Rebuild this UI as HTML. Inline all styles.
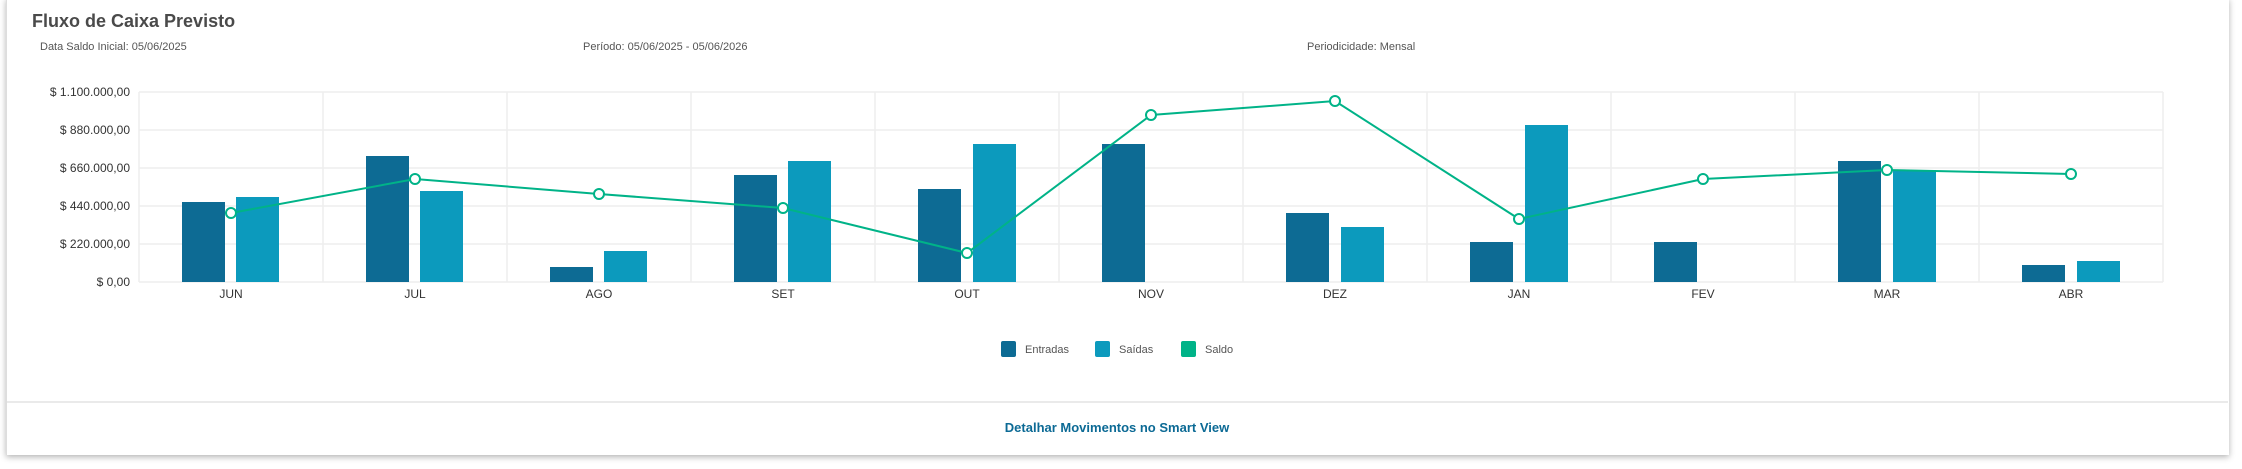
<!DOCTYPE html>
<html><head><meta charset="utf-8"><style>
body{margin:0;width:2242px;height:469px;background:#fff;overflow:hidden;font-family:"Liberation Sans",sans-serif;}
.card{position:absolute;left:6px;top:-2px;width:2222px;height:457px;background:#fff;box-shadow:0 2px 6px rgba(0,0,0,0.3);border-left:1px solid #ddd;}
</style></head><body>
<div class="card"></div>
<svg width="2242" height="469" style="position:absolute;left:0;top:0" font-family="Liberation Sans, sans-serif">
<text x="32" y="27" font-size="18" font-weight="bold" fill="#4a4a4a">Fluxo de Caixa Previsto</text>
<g font-size="11" fill="#555">
<text x="40" y="50">Data Saldo Inicial: 05/06/2025</text>
<text x="583" y="50">Período: 05/06/2025 - 05/06/2026</text>
<text x="1307" y="50">Periodicidade: Mensal</text>
</g>
<g stroke="#eeeeee" stroke-width="1.5">
<line x1="139" y1="92" x2="2163" y2="92"/><line x1="139" y1="130" x2="2163" y2="130"/><line x1="139" y1="168" x2="2163" y2="168"/><line x1="139" y1="206" x2="2163" y2="206"/><line x1="139" y1="244" x2="2163" y2="244"/><line x1="139" y1="282" x2="2163" y2="282"/>
<line x1="139" y1="92" x2="139" y2="282"/><line x1="323" y1="92" x2="323" y2="282"/><line x1="507" y1="92" x2="507" y2="282"/><line x1="691" y1="92" x2="691" y2="282"/><line x1="875" y1="92" x2="875" y2="282"/><line x1="1059" y1="92" x2="1059" y2="282"/><line x1="1243" y1="92" x2="1243" y2="282"/><line x1="1427" y1="92" x2="1427" y2="282"/><line x1="1611" y1="92" x2="1611" y2="282"/><line x1="1795" y1="92" x2="1795" y2="282"/><line x1="1979" y1="92" x2="1979" y2="282"/><line x1="2163" y1="92" x2="2163" y2="282"/>
</g>
<g font-size="12" fill="#333" text-anchor="end">
<text x="130" y="96">$ 1.100.000,00</text><text x="130" y="134">$ 880.000,00</text><text x="130" y="172">$ 660.000,00</text><text x="130" y="210">$ 440.000,00</text><text x="130" y="248">$ 220.000,00</text><text x="130" y="286">$ 0,00</text>
</g>
<g font-size="12" fill="#333" text-anchor="middle">
<text x="231" y="298">JUN</text><text x="415" y="298">JUL</text><text x="599" y="298">AGO</text><text x="783" y="298">SET</text><text x="967" y="298">OUT</text><text x="1151" y="298">NOV</text><text x="1335" y="298">DEZ</text><text x="1519" y="298">JAN</text><text x="1703" y="298">FEV</text><text x="1887" y="298">MAR</text><text x="2071" y="298">ABR</text>
</g>
<g fill="#0d6b94">
<rect x="182" y="202" width="43" height="80"/><rect x="366" y="156" width="43" height="126"/><rect x="550" y="267" width="43" height="15"/><rect x="734" y="175" width="43" height="107"/><rect x="918" y="189" width="43" height="93"/><rect x="1102" y="144" width="43" height="138"/><rect x="1286" y="213" width="43" height="69"/><rect x="1470" y="242" width="43" height="40"/><rect x="1654" y="242" width="43" height="40"/><rect x="1838" y="161" width="43" height="121"/><rect x="2022" y="265" width="43" height="17"/>
</g>
<g fill="#0c9abd">
<rect x="236" y="197" width="43" height="85"/><rect x="420" y="191" width="43" height="91"/><rect x="604" y="251" width="43" height="31"/><rect x="788" y="161" width="43" height="121"/><rect x="973" y="144" width="43" height="138"/><rect x="1341" y="227" width="43" height="55"/><rect x="1525" y="125" width="43" height="157"/><rect x="1893" y="170" width="43" height="112"/><rect x="2077" y="261" width="43" height="21"/>
</g>
<polyline fill="none" stroke="#00b388" stroke-width="2" points="231,213 415,179 599,194 783,208 967,253 1151,115 1335,101 1519,219 1703,179 1887,170 2071,174"/>
<g fill="#fff" stroke="#00b388" stroke-width="2">
<circle cx="231" cy="213" r="5"/><circle cx="415" cy="179" r="5"/><circle cx="599" cy="194" r="5"/><circle cx="783" cy="208" r="5"/><circle cx="967" cy="253" r="5"/><circle cx="1151" cy="115" r="5"/><circle cx="1335" cy="101" r="5"/><circle cx="1519" cy="219" r="5"/><circle cx="1703" cy="179" r="5"/><circle cx="1887" cy="170" r="5"/><circle cx="2071" cy="174" r="5"/>
</g>
<rect x="1001" y="341" width="15" height="16" rx="2" fill="#0d6b94"/>
<rect x="1095" y="341" width="15" height="16" rx="2" fill="#0c9abd"/>
<rect x="1181" y="341" width="15" height="16" rx="2" fill="#00b388"/>
<g font-size="11" fill="#555">
<text x="1025" y="353">Entradas</text><text x="1119" y="353">Saídas</text><text x="1205" y="353">Saldo</text>
</g>
<line x1="7" y1="402" x2="2228" y2="402" stroke="#e3e3e3" stroke-width="1.5"/>
<text x="1117" y="432" font-size="13" font-weight="bold" fill="#0c6a95" text-anchor="middle">Detalhar Movimentos no Smart View</text>
</svg>
</body></html>
